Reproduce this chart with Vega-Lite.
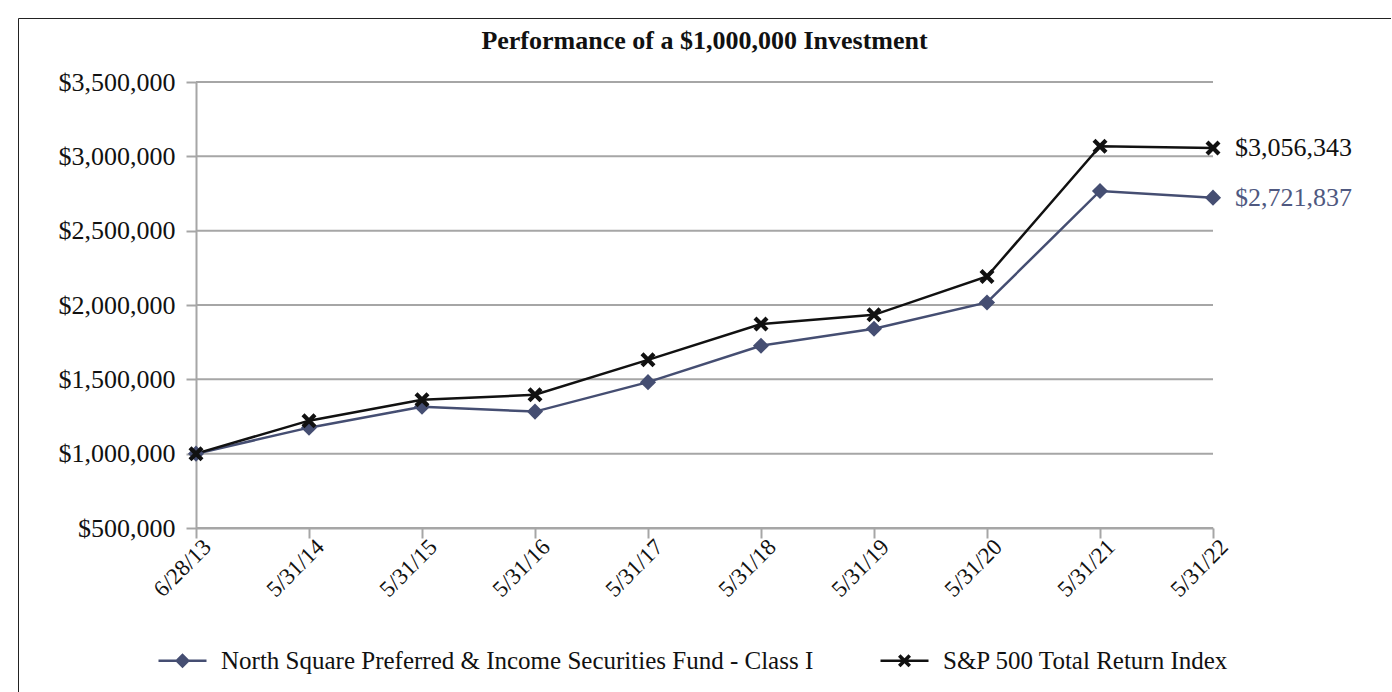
{
  "$schema": "https://vega.github.io/schema/vega-lite/v6.json",
  "width": 1373,
  "height": 680,
  "autosize": {"type": "none"},
  "padding": {"left": 18, "top": 18, "right": 0, "bottom": 0},
  "config": {
    "view": {"stroke": "#222222", "strokeWidth": 1},
    "font": "Liberation Serif"
  },
  "title": {
    "text": "Performance of a $1,000,000 Investment",
    "fontSize": 26,
    "fontWeight": "bold",
    "font": "Liberation Serif",
    "color": "#111111",
    "anchor": "middle",
    "frame": "group",
    "offset": -36
  },
  "datasets": {
    "perf": [
      {"date": "6/28/13", "series": "North Square Preferred & Income Securities Fund - Class I", "value": 1000000},
      {"date": "5/31/14", "series": "North Square Preferred & Income Securities Fund - Class I", "value": 1175000},
      {"date": "5/31/15", "series": "North Square Preferred & Income Securities Fund - Class I", "value": 1316000},
      {"date": "5/31/16", "series": "North Square Preferred & Income Securities Fund - Class I", "value": 1283000},
      {"date": "5/31/17", "series": "North Square Preferred & Income Securities Fund - Class I", "value": 1481000},
      {"date": "5/31/18", "series": "North Square Preferred & Income Securities Fund - Class I", "value": 1726000},
      {"date": "5/31/19", "series": "North Square Preferred & Income Securities Fund - Class I", "value": 1840000},
      {"date": "5/31/20", "series": "North Square Preferred & Income Securities Fund - Class I", "value": 2017000},
      {"date": "5/31/21", "series": "North Square Preferred & Income Securities Fund - Class I", "value": 2767000},
      {"date": "5/31/22", "series": "North Square Preferred & Income Securities Fund - Class I", "value": 2721837},
      {"date": "6/28/13", "series": "S&P 500 Total Return Index", "value": 1000000},
      {"date": "5/31/14", "series": "S&P 500 Total Return Index", "value": 1222000},
      {"date": "5/31/15", "series": "S&P 500 Total Return Index", "value": 1363000},
      {"date": "5/31/16", "series": "S&P 500 Total Return Index", "value": 1396000},
      {"date": "5/31/17", "series": "S&P 500 Total Return Index", "value": 1631000},
      {"date": "5/31/18", "series": "S&P 500 Total Return Index", "value": 1872000},
      {"date": "5/31/19", "series": "S&P 500 Total Return Index", "value": 1934000},
      {"date": "5/31/20", "series": "S&P 500 Total Return Index", "value": 2192000},
      {"date": "5/31/21", "series": "S&P 500 Total Return Index", "value": 3068000},
      {"date": "5/31/22", "series": "S&P 500 Total Return Index", "value": 3056343}
    ],
    "grid": [
      {"value": 500000}, {"value": 1000000}, {"value": 1500000}, {"value": 2000000},
      {"value": 2500000}, {"value": 3000000}, {"value": 3500000}
    ]
  },
  "layer": [
    {
      "data": {"name": "grid"},
      "mark": {"type": "rule", "color": "#a6a6a6", "strokeWidth": 2},
      "encoding": {
        "x": {"datum": "6/28/13", "type": "ordinal"},
        "x2": {"datum": "5/31/22"},
        "y": {"field": "value", "type": "quantitative"}
      }
    },
    {
      "data": {"name": "perf"},
      "transform": [{"filter": "datum.series === 'North Square Preferred & Income Securities Fund - Class I'"}],
      "mark": {"type": "line", "strokeWidth": 2.5, "color": "#454e72"},
      "encoding": {
        "x": {
          "field": "date", "type": "ordinal",
          "scale": {
            "type": "point", "padding": 0, "range": [178, 1195],
            "domain": ["6/28/13", "5/31/14", "5/31/15", "5/31/16", "5/31/17", "5/31/18", "5/31/19", "5/31/20", "5/31/21", "5/31/22"]
          },
          "axis": {
            "title": null, "offset": -170, "labelAngle": -45, "labelFont": "Liberation Serif",
            "labelFontSize": 23, "labelColor": "#111111", "labelPadding": 5, "labelOffset": 11,
            "domainColor": "#a6a6a6", "domainWidth": 2, "tickColor": "#a6a6a6", "tickWidth": 2,
            "tickSize": 10, "grid": false
          }
        },
        "y": {
          "field": "value", "type": "quantitative",
          "scale": {"domain": [500000, 3500000], "range": [510, 64], "nice": false, "zero": false},
          "axis": {
            "title": null, "offset": -178, "values": [500000, 1000000, 1500000, 2000000, 2500000, 3000000, 3500000],
            "format": "$,.0f", "labelFont": "Liberation Serif", "labelFontSize": 26, "labelColor": "#111111",
            "labelPadding": 11, "domainColor": "#a6a6a6", "domainWidth": 2, "tickColor": "#a6a6a6",
            "tickWidth": 2, "tickSize": 10, "grid": false
          }
        }
      }
    },
    {
      "data": {"name": "perf"},
      "transform": [{"filter": "datum.series === 'S&P 500 Total Return Index'"}],
      "mark": {"type": "line", "strokeWidth": 2.5, "color": "#111111"},
      "encoding": {
        "x": {"field": "date", "type": "ordinal"},
        "y": {"field": "value", "type": "quantitative"}
      }
    },
    {
      "data": {"name": "perf"},
      "transform": [{"filter": "datum.series === 'North Square Preferred & Income Securities Fund - Class I'"}],
      "mark": {"type": "point", "filled": true, "shape": "diamond", "size": 260, "color": "#454e72", "opacity": 1},
      "encoding": {
        "x": {"field": "date", "type": "ordinal"},
        "y": {"field": "value", "type": "quantitative"}
      }
    },
    {
      "data": {"name": "perf"},
      "transform": [{"filter": "datum.series === 'S&P 500 Total Return Index'"}],
      "mark": {"type": "point", "filled": true, "shape": "M-1,-0.6L-0.6,-1L0,-0.4L0.6,-1L1,-0.6L0.4,0L1,0.6L0.6,1L0,0.4L-0.6,1L-1,0.6L-0.4,0Z", "size": 225, "color": "#111111", "opacity": 1},
      "encoding": {
        "x": {"field": "date", "type": "ordinal"},
        "y": {"field": "value", "type": "quantitative"}
      }
    },
    {
      "data": {"name": "perf"},
      "transform": [{"filter": "datum.date === '5/31/22' && datum.series === 'S&P 500 Total Return Index'"}],
      "mark": {"type": "text", "align": "left", "baseline": "middle", "dx": 22, "fontSize": 26, "font": "Liberation Serif", "color": "#111111"},
      "encoding": {
        "x": {"field": "date", "type": "ordinal"},
        "y": {"field": "value", "type": "quantitative"},
        "text": {"field": "value", "type": "quantitative", "format": "$,.0f"}
      }
    },
    {
      "data": {"name": "perf"},
      "transform": [{"filter": "datum.date === '5/31/22' && datum.series !== 'S&P 500 Total Return Index'"}],
      "mark": {"type": "text", "align": "left", "baseline": "middle", "dx": 22, "fontSize": 26, "font": "Liberation Serif", "color": "#4f5880"},
      "encoding": {
        "x": {"field": "date", "type": "ordinal"},
        "y": {"field": "value", "type": "quantitative"},
        "text": {"field": "value", "type": "quantitative", "format": "$,.0f"}
      }
    },
    {
      "data": {"name": "perf"},
      "transform": [{"filter": "datum.date === '6/28/13'"}],
      "mark": {"type": "point", "filled": true, "opacity": 0, "size": 400},
      "encoding": {
        "x": {"field": "date", "type": "ordinal"},
        "y": {"field": "value", "type": "quantitative"},
        "color": {
          "field": "series", "type": "nominal",
          "scale": {
            "domain": ["North Square Preferred & Income Securities Fund - Class I", "S&P 500 Total Return Index"],
            "range": ["#454e72", "#111111"]
          }
        },
        "shape": {
          "field": "series", "type": "nominal",
          "scale": {
            "domain": ["North Square Preferred & Income Securities Fund - Class I", "S&P 500 Total Return Index"],
            "range": [
              "M-2.4,-0.12H2.4V0.12H-2.4Z M0,-0.75L0.75,0L0,0.75L-0.75,0Z",
              "M-2.4,-0.12H2.4V0.12H-2.4Z M-0.65,-0.4L-0.4,-0.65L0,-0.25L0.4,-0.65L0.65,-0.4L0.25,0L0.65,0.4L0.4,0.65L0,0.25L-0.4,0.65L-0.65,0.4L-0.25,0Z"
            ]
          },
          "legend": {
            "title": null, "orient": "none", "direction": "horizontal",
            "legendX": 152, "legendY": 630, "padding": 0,
            "symbolSize": 400, "symbolOpacity": 1, "symbolStrokeWidth": 0,
            "labelFont": "Liberation Serif", "labelFontSize": 25, "labelColor": "#111111",
            "labelOffset": 26, "columnPadding": 66, "labelLimit": 0
          }
        }
      }
    }
  ]
}
